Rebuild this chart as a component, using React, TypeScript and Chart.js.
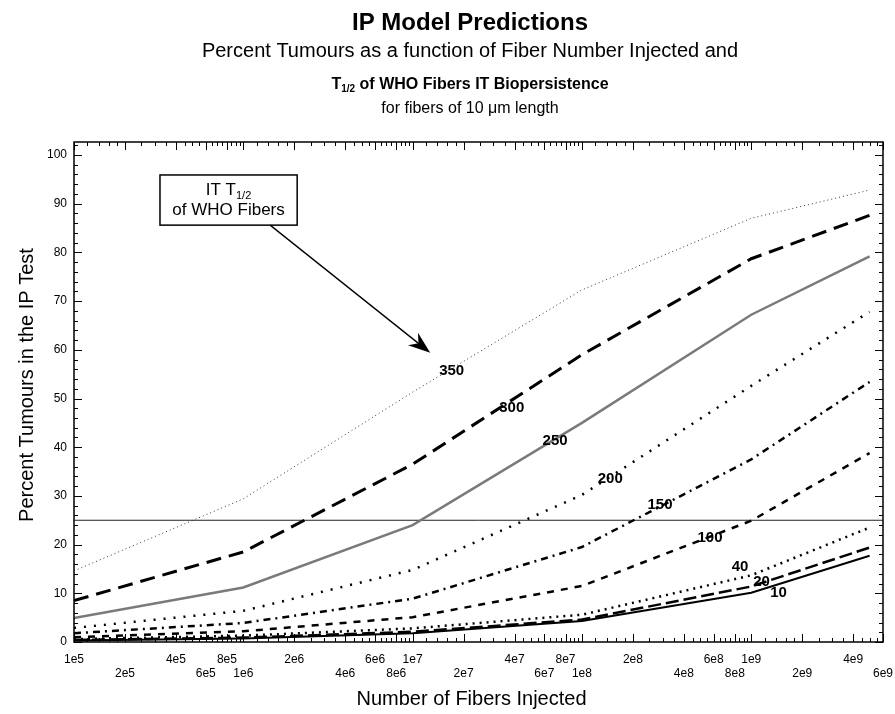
import React, { useEffect, useRef } from 'react';
import { Chart, registerables } from 'chart.js';

Chart.register(...registerables);

// Number of fibers injected at which the model curves are evaluated
const fiberCounts = [1e5, 1e6, 1e7, 1e8, 1e9, 5e9];

// IT half-life (days) of WHO fibers for each curve
const halfLives = ['350', '300', '250', '200', '150', '100', '40', '20', '10'];

// Percent tumours in the IP test, one array per half-life
const tumours350 = [14.6, 29.4, 51.3, 72.3, 87.0, 92.8];
const tumours300 = [8.5, 18.5, 36.5, 59.0, 78.7, 87.6];
const tumours250 = [4.9, 11.2, 24.0, 45.0, 67.2, 79.2];
const tumours200 = [2.9, 6.4, 14.8, 30.2, 52.6, 67.8];
const tumours150 = [1.8, 3.9, 8.9, 19.5, 37.5, 53.4];
const tumours100 = [1.0, 2.2, 5.1, 11.5, 24.9, 38.8];
const tumours40 = [0.6, 1.3, 2.8, 5.6, 13.7, 23.5];
const tumours20 = [0.4, 0.9, 2.1, 4.6, 11.4, 19.4];
const tumours10 = [0.3, 0.7, 1.8, 4.3, 10.1, 17.7];

const tumourSeries = [
  tumours350, tumours300, tumours250, tumours200, tumours150,
  tumours100, tumours40, tumours20, tumours10,
];

// 25 % reference level
const thresholdPercent = 25;

// Axis ticks
const xTickLabels = [
  '1e5', '2e5', '4e5', '6e5', '8e5',
  '1e6', '2e6', '4e6', '6e6', '8e6',
  '1e7', '2e7', '4e7', '6e7', '8e7',
  '1e8', '2e8', '4e8', '6e8', '8e8',
  '1e9', '2e9', '4e9', '6e9',
];
const yTickValues = [0, 10, 20, 30, 40, 50, 60, 70, 80, 90, 100];

const X_MIN = 1e5;
const X_MAX = 6e9;
const Y_MIN = 0;
const Y_MAX = 102.67;

const WIDTH = 895;
const HEIGHT = 714;

const FONT = '"Liberation Sans", Arial, Helvetica, sans-serif';

// Line appearance for each half-life curve
const lineStyles = [
  { color: '#333', width: 1, dash: [1, 3] },
  { color: '#000', width: 3, dash: [15, 8] },
  { color: '#7a7a7a', width: 2.5, dash: [] },
  { color: '#000', width: 2.5, dash: [2, 8] },
  { color: '#000', width: 2.5, dash: [7, 5, 2, 5] },
  { color: '#000', width: 2.5, dash: [7, 7] },
  { color: '#000', width: 2.5, dash: [2, 5] },
  { color: '#000', width: 2.5, dash: [13, 5] },
  { color: '#000', width: 2, dash: [] },
];

// Where each curve's half-life label sits (data coordinates)
const curveLabelAnchors = [
  [1.7e7, 55.7],
  [3.85e7, 48.0],
  [6.94e7, 41.3],
  [1.47e8, 33.6],
  [2.89e8, 28.1],
  [5.71e8, 21.3],
  [8.59e8, 15.5],
  [1.15e9, 12.4],
  [1.45e9, 10.1],
];

// Callout box and its arrow (data coordinates)
const calloutBox = { x0: 3.22e5, x1: 2.08e6, yTop: 95.9, yBottom: 85.6, xText: 8.18e5, line1: 91.8, line2: 87.7 };
const calloutArrow = { fromX: 1.44e6, fromY: 85.6, toX: 1.27e7, toY: 59.4 };

function drawSubscripted(
  ctx: CanvasRenderingContext2D,
  parts: { text: string; sub?: boolean }[],
  cx: number,
  baseline: number,
  mainFont: string,
  subFont: string,
  subDrop: number,
) {
  let total = 0;
  const widths = parts.map((p) => {
    ctx.font = p.sub ? subFont : mainFont;
    const w = ctx.measureText(p.text).width;
    total += w;
    return w;
  });
  let x = cx - total / 2;
  ctx.textAlign = 'left';
  ctx.textBaseline = 'alphabetic';
  parts.forEach((p, i) => {
    ctx.font = p.sub ? subFont : mainFont;
    ctx.fillText(p.text, x, baseline + (p.sub ? subDrop : 0));
    x += widths[i];
  });
}

function drawArrow(ctx: CanvasRenderingContext2D, x0: number, y0: number, x1: number, y1: number) {
  const ang = Math.atan2(y1 - y0, x1 - x0);
  const c = Math.cos(ang);
  const s = Math.sin(ang);
  const len = 22;
  const half = 8;
  const notch = 15;
  ctx.beginPath();
  ctx.moveTo(x0, y0);
  ctx.lineTo(x1 - c * notch, y1 - s * notch);
  ctx.stroke();
  const bx = x1 - c * len;
  const by = y1 - s * len;
  ctx.beginPath();
  ctx.moveTo(x1, y1);
  ctx.lineTo(bx - s * half, by + c * half);
  ctx.lineTo(x1 - c * notch, y1 - s * notch);
  ctx.lineTo(bx + s * half, by - c * half);
  ctx.closePath();
  ctx.fill();
}

// Plot frame with inward tick marks on all four sides
const framePlugin = {
  id: 'plotFrame',
  afterDatasetsDraw(chart: Chart) {
    const { ctx, chartArea: a } = chart;
    const x = chart.scales.x;
    const y = chart.scales.y;
    ctx.save();
    ctx.strokeStyle = '#000';
    ctx.lineWidth = 1.5;
    ctx.strokeRect(a.left, a.top, a.right - a.left, a.bottom - a.top);
    ctx.lineWidth = 1;
    ctx.beginPath();
    for (let v = 0; v <= Y_MAX; v += 2) {
      const py = Math.round(y.getPixelForValue(v)) + 0.5;
      const len = v % 10 === 0 ? 8 : 4;
      ctx.moveTo(a.left, py);
      ctx.lineTo(a.left + len, py);
      ctx.moveTo(a.right, py);
      ctx.lineTo(a.right - len, py);
    }
    const majors = xTickLabels.map((t) => Number(t));
    const mults = [1, 1.2, 1.4, 1.6, 1.8, 2, 2.5, 3, 3.5, 4, 4.5, 5, 5.5, 6, 6.5, 7, 7.5, 8, 8.5, 9, 9.5];
    for (let k = 5; k <= 9; k++) {
      for (const m of mults) {
        const v = m * Math.pow(10, k);
        if (v < X_MIN || v > X_MAX) continue;
        const px = Math.round(x.getPixelForValue(v)) + 0.5;
        const isMajor = majors.some((mv) => Math.abs(mv - v) / v < 1e-9);
        const len = isMajor ? 8 : 4;
        ctx.moveTo(px, a.bottom);
        ctx.lineTo(px, a.bottom - len);
        ctx.moveTo(px, a.top);
        ctx.lineTo(px, a.top + len);
      }
    }
    ctx.stroke();
    ctx.restore();
  },
};

// Titles, axis titles, curve labels and the callout
const textPlugin = {
  id: 'chartText',
  afterDraw(chart: Chart) {
    const { ctx, chartArea: a } = chart;
    const x = chart.scales.x;
    const y = chart.scales.y;
    const cx = 470;
    ctx.save();
    ctx.fillStyle = '#000';
    ctx.strokeStyle = '#000';

    ctx.textAlign = 'center';
    ctx.textBaseline = 'alphabetic';
    ctx.font = `bold 24px ${FONT}`;
    ctx.fillText('IP Model Predictions', cx, 30);
    ctx.font = `20px ${FONT}`;
    ctx.fillText('Percent Tumours as a function of Fiber Number Injected and', cx, 57);
    drawSubscripted(
      ctx,
      [{ text: 'T' }, { text: '1/2', sub: true }, { text: ' of WHO Fibers IT Biopersistence' }],
      cx, 89, `bold 16px ${FONT}`, `bold 10px ${FONT}`, 3,
    );
    ctx.textAlign = 'center';
    ctx.font = `16px ${FONT}`;
    ctx.fillText('for fibers of 10 \u03bcm length', cx, 113);

    // axis titles
    ctx.font = `20px ${FONT}`;
    ctx.textBaseline = 'middle';
    ctx.fillText('Number of Fibers Injected', (a.left + a.right) / 2 - 7, 699);
    ctx.save();
    ctx.translate(27, 385);
    ctx.rotate(-Math.PI / 2);
    ctx.fillText('Percent Tumours in the IP Test', 0, 0);
    ctx.restore();

    // curve labels
    ctx.font = `bold 15px ${FONT}`;
    ctx.textAlign = 'center';
    ctx.textBaseline = 'middle';
    halfLives.forEach((lbl, i) => {
      const [vx, vy] = curveLabelAnchors[i];
      ctx.fillText(lbl, x.getPixelForValue(vx), y.getPixelForValue(vy));
    });

    // callout box
    const bx0 = x.getPixelForValue(calloutBox.x0);
    const bx1 = x.getPixelForValue(calloutBox.x1);
    const by0 = y.getPixelForValue(calloutBox.yTop);
    const by1 = y.getPixelForValue(calloutBox.yBottom);
    ctx.fillStyle = '#fff';
    ctx.fillRect(bx0, by0, bx1 - bx0, by1 - by0);
    ctx.fillStyle = '#000';
    ctx.lineWidth = 1.5;
    ctx.strokeRect(bx0, by0, bx1 - bx0, by1 - by0);
    const tx = x.getPixelForValue(calloutBox.xText);
    drawSubscripted(
      ctx,
      [{ text: 'IT T' }, { text: '1/2', sub: true }],
      tx, y.getPixelForValue(calloutBox.line1), `17px ${FONT}`, `11px ${FONT}`, 4,
    );
    ctx.textAlign = 'center';
    ctx.textBaseline = 'alphabetic';
    ctx.font = `17px ${FONT}`;
    ctx.fillText('of WHO Fibers', tx, y.getPixelForValue(calloutBox.line2));

    ctx.lineWidth = 1.3;
    drawArrow(
      ctx,
      x.getPixelForValue(calloutArrow.fromX), y.getPixelForValue(calloutArrow.fromY),
      x.getPixelForValue(calloutArrow.toX), y.getPixelForValue(calloutArrow.toY),
    );
    ctx.restore();
  },
};

export default function App() {
  const canvasRef = useRef<HTMLCanvasElement | null>(null);

  useEffect(() => {
    if (!canvasRef.current) return;

    const datasets: any[] = tumourSeries.map((series, i) => ({
      label: halfLives[i],
      data: fiberCounts.map((f, j) => ({ x: f, y: series[j] })),
      borderColor: lineStyles[i].color,
      borderWidth: lineStyles[i].width,
      borderDash: lineStyles[i].dash,
      borderCapStyle: 'butt',
      pointRadius: 0,
      tension: 0,
      fill: false,
    }));
    datasets.push({
      label: 'threshold',
      data: [{ x: X_MIN, y: thresholdPercent }, { x: X_MAX, y: thresholdPercent }],
      borderColor: '#222',
      borderWidth: 1,
      pointRadius: 0,
      fill: false,
    });

    const chart = new Chart(canvasRef.current, {
      type: 'line',
      data: { datasets },
      options: {
        animation: false,
        responsive: false,
        devicePixelRatio: 1,
        layout: { padding: { top: 142, right: 12, left: 0, bottom: 0 } },
        plugins: {
          legend: { display: false },
          tooltip: { enabled: false },
          title: { display: false },
        },
        scales: {
          x: {
            type: 'logarithmic',
            min: X_MIN,
            max: X_MAX,
            grid: { display: false, drawTicks: false },
            border: { display: false },
            afterBuildTicks: (scale: any) => {
              scale.ticks = xTickLabels.map((t) => ({ value: Number(t) }));
            },
            afterFit: (scale: any) => {
              scale.height = 72;
              scale.paddingLeft = 0;
              scale.paddingRight = 0;
            },
            ticks: {
              autoSkip: false,
              maxRotation: 0,
              minRotation: 0,
              padding: 10,
              color: '#000',
              font: { size: 12, family: FONT, lineHeight: 1.2 },
              callback: (_v: any, index: number) =>
                index % 2 === 0 ? [xTickLabels[index], ''] : ['', xTickLabels[index]],
            },
          },
          y: {
            type: 'linear',
            min: Y_MIN,
            max: Y_MAX,
            grid: { display: false, drawTicks: false },
            border: { display: false },
            afterBuildTicks: (scale: any) => {
              scale.ticks = yTickValues.map((v) => ({ value: v }));
            },
            afterFit: (scale: any) => {
              scale.width = 74;
              scale.paddingTop = 0;
              scale.paddingBottom = 0;
            },
            ticks: {
              padding: 7,
              color: '#000',
              font: { size: 12, family: FONT },
              callback: (v: any) => String(v),
            },
          },
        },
      },
      plugins: [framePlugin, textPlugin],
    });

    return () => chart.destroy();
  }, []);

  return (
    <div style={{ position: 'fixed', left: 0, top: 0, width: WIDTH, height: HEIGHT, background: '#fff' }}>
      <canvas ref={canvasRef} width={WIDTH} height={HEIGHT} style={{ display: 'block' }} />
    </div>
  );
}
